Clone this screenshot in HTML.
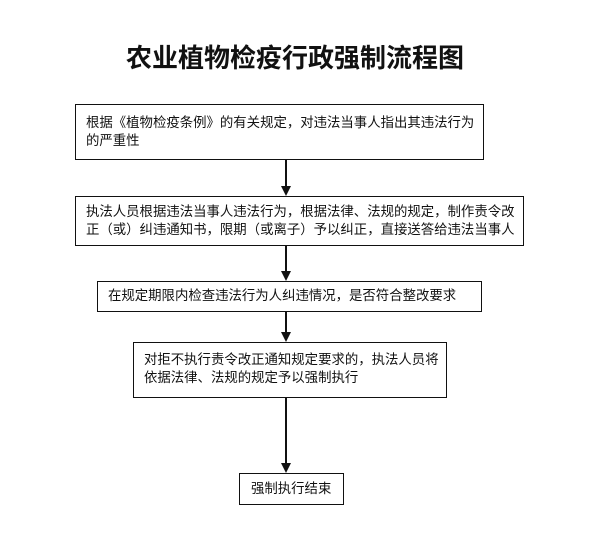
<!DOCTYPE html>
<html><head><meta charset="utf-8"><style>
body{margin:0;width:607px;height:550px;background:#fff;position:relative;overflow:hidden;font-family:"Liberation Sans","Noto Sans CJK SC",sans-serif;color:#111}
.t{position:absolute;left:0;width:590px;top:38px;text-align:center;font-size:26px;font-weight:bold;font-family:"Liberation Sans","Noto Sans CJK SC",sans-serif}
.b{position:absolute;border:1.5px solid #111;box-sizing:border-box;font-size:13.4px;line-height:18px;padding:0 8px;white-space:nowrap}
.l{position:absolute;left:285px;width:1.5px;background:#111}
.a{position:absolute;left:281px;width:0;height:0;border-left:5px solid transparent;border-right:5px solid transparent;border-top:10px solid #111}
</style></head><body>
<div class="t">农业植物检疫行政强制流程图</div>
<div class="b" style="left:75px;top:104px;width:409px;height:56px;padding-top:9px;padding-left:10px">根据《植物检疫条例》的有关规定，对违法当事人指出其违法行为<br>的严重性</div>
<div class="l" style="top:160px;height:28px"></div><div class="a" style="top:186px"></div>
<div class="b" style="left:75px;top:196px;width:449px;height:50px;padding-top:6px;padding-left:10px">执法人员根据违法当事人违法行为，根据法律、法规的规定，制作责令改<br>正（或）纠违通知书，限期（或离子）予以纠正，直接送答给违法当事人</div>
<div class="l" style="top:246px;height:26px"></div><div class="a" style="top:271px"></div>
<div class="b" style="left:97px;top:281px;width:385px;height:31px;padding-top:5px;padding-left:10px">在规定期限内检查违法行为人纠违情况，是否符合整改要求</div>
<div class="l" style="top:312px;height:22px"></div><div class="a" style="top:332px"></div>
<div class="b" style="left:133px;top:342px;width:314px;height:56px;padding-top:8px;padding-left:10px">对拒不执行责令改正通知规定要求的，执法人员将<br>依据法律、法规的规定予以强制执行</div>
<div class="l" style="top:398px;height:66px"></div><div class="a" style="top:463px"></div>
<div class="b" style="left:239px;top:473px;width:105px;height:32px;padding-top:6px;padding-left:11px">强制执行结束</div>
</body></html>
